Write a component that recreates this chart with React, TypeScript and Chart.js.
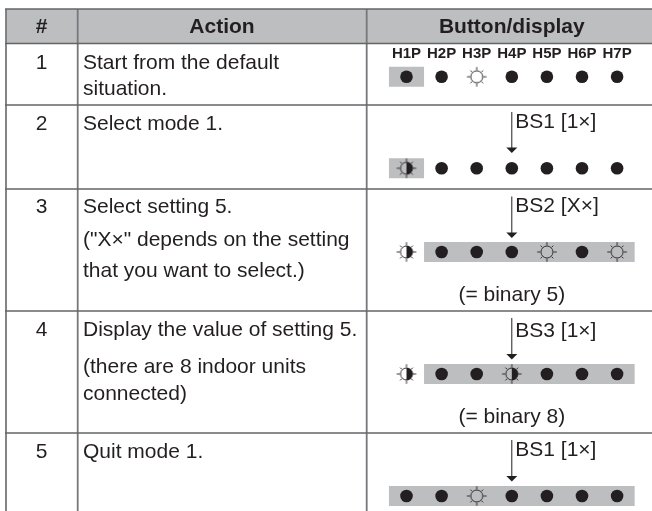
import React, { useEffect, useRef } from "react";
import { Chart, registerables } from "chart.js";

Chart.register(...registerables);

// ---- data ----
const ledLabels = ["H1P", "H2P", "H3P", "H4P", "H5P", "H6P", "H7P"];
const stepNumbers = ["1", "2", "3", "4", "5"];
const headers = ["#", "Action", "Button/display"];
const actionLines = [
  ["Start from the default", "situation."],
  ["Select mode 1."],
  ["Select setting 5.", "(\"X×\" depends on the setting", "that you want to select.)"],
  ["Display the value of setting 5.", "(there are 8 indoor units", "connected)"],
  ["Quit mode 1."],
];
const buttonLabels = ["", "BS1 [1×]", "BS2 [X×]", "BS3 [1×]", "BS1 [1×]"];
const resultLabels = ["", "", "(= binary 5)", "(= binary 8)", ""];
// o = off (solid dot), s = sun (on), h = half sun (blinking)
const ledStep1 = ["o", "o", "s", "o", "o", "o", "o"];
const ledStep2 = ["h", "o", "o", "o", "o", "o", "o"];
const ledStep3 = ["h", "o", "o", "o", "s", "o", "s"];
const ledStep4 = ["h", "o", "o", "h", "o", "o", "o"];
const ledStep5 = ["o", "o", "s", "o", "o", "o", "o"];
const ledSteps = [ledStep1, ledStep2, ledStep3, ledStep4, ledStep5];
// highlighted LED column ranges per step
const bandFrom = [1, 1, 2, 2, 1];
const bandTo = [1, 1, 7, 7, 7];

// ---- layout ----
const W = 652;
const H = 511;
const INK = "#231f20";
const COL0 = 406.5;
const STEP = 35.1;
const LED_Y = [76.8, 168.2, 252, 374, 496];
const ROW_LINES = [9, 43.5, 105, 189, 311, 433];
const COL_LINES = [6, 77.7, 366.7];
const NUM_BASE = [68.5, 130, 213, 336, 458];
const ACTION_BASE = [[69, 95], [130], [213, 246, 277], [336, 373, 400], [458]];
const BTN_TOP = [0, 112, 196.5, 318, 440];
const BTN_TIP = [0, 153, 238, 359.5, 481.5];
const BTN_BASE = [0, 128, 212, 336.5, 456];
const RES_BASE = [0, 0, 301, 423, 0];
const FONT = '"Liberation Sans", Arial, sans-serif';

function makeSun(half: boolean) {
  const c = document.createElement("canvas");
  c.width = 22;
  c.height = 22;
  const g = c.getContext("2d")!;
  g.translate(11, 11);
  g.strokeStyle = INK;
  g.lineWidth = 0.9;
  g.beginPath();
  g.arc(0, 0, 6, 0, Math.PI * 2);
  g.stroke();
  if (half) {
    g.fillStyle = INK;
    g.beginPath();
    g.arc(0, 0, 6.3, -Math.PI / 2, Math.PI / 2);
    g.fill();
  }
  for (let i = 0; i < 8; i++) {
    const a = (i * Math.PI) / 4;
    const outer = i % 2 === 0 ? 9.8 : 9;
    g.beginPath();
    g.moveTo(Math.cos(a) * 6.6, Math.sin(a) * 6.6);
    g.lineTo(Math.cos(a) * outer, Math.sin(a) * outer);
    g.stroke();
  }
  return c;
}

function pointsOf(state: string) {
  const out: { x: number; y: number }[] = [];
  ledSteps.forEach((row, r) =>
    row.forEach((s, i) => {
      if (s === state) out.push({ x: i + 1, y: LED_Y[r] });
    })
  );
  return out;
}

const tablePlugin = {
  id: "tablePlugin",
  beforeDatasetsDraw(chart: any) {
    const ctx = chart.ctx;
    ctx.save();
    ctx.fillStyle = "#bcbec0";
    ctx.fillRect(COL_LINES[0], ROW_LINES[0], W - COL_LINES[0], ROW_LINES[1] - ROW_LINES[0]);
    ctx.strokeStyle = "#77787b";
    ctx.lineWidth = 1.8;
    COL_LINES.forEach((x) => {
      ctx.beginPath();
      ctx.moveTo(x, ROW_LINES[0]);
      ctx.lineTo(x, H);
      ctx.stroke();
    });
    ctx.strokeStyle = "#636466";
    ctx.lineWidth = 1.5;
    ROW_LINES.forEach((y) => {
      ctx.beginPath();
      ctx.moveTo(COL_LINES[0] - 0.9, y);
      ctx.lineTo(W, y);
      ctx.stroke();
    });
    ctx.restore();
  },
  afterDatasetsDraw(chart: any) {
    const ctx = chart.ctx;
    const xs = chart.scales.x;
    ctx.save();
    ctx.fillStyle = INK;
    ctx.textBaseline = "alphabetic";

    ctx.font = `bold 21px ${FONT}`;
    ctx.textAlign = "center";
    ctx.fillText(headers[0], 41.5, 33);
    ctx.fillText(headers[1], 222, 33);
    ctx.fillText(headers[2], xs.getPixelForValue(4), 33);

    ctx.font = `bold 15px ${FONT}`;
    ledLabels.forEach((l, i) => ctx.fillText(l, xs.getPixelForValue(i + 1), 58));

    ctx.font = `21px ${FONT}`;
    stepNumbers.forEach((n, r) => ctx.fillText(n, 41.5, NUM_BASE[r]));

    ctx.textAlign = "left";
    actionLines.forEach((lines, r) =>
      lines.forEach((t, i) => ctx.fillText(t, 83, ACTION_BASE[r][i]))
    );

    buttonLabels.forEach((t, r) => {
      if (!t) return;
      const ax = xs.getPixelForValue(4);
      ctx.fillText(t, ax + 3.5, BTN_BASE[r]);
      ctx.strokeStyle = INK;
      ctx.lineWidth = 1;
      ctx.beginPath();
      ctx.moveTo(ax, BTN_TOP[r]);
      ctx.lineTo(ax, BTN_TIP[r] - 4);
      ctx.stroke();
      ctx.beginPath();
      ctx.moveTo(ax - 5.5, BTN_TIP[r] - 5.5);
      ctx.lineTo(ax + 5.5, BTN_TIP[r] - 5.5);
      ctx.lineTo(ax, BTN_TIP[r]);
      ctx.closePath();
      ctx.fill();
    });

    ctx.textAlign = "center";
    resultLabels.forEach((t, r) => {
      if (t) ctx.fillText(t, xs.getPixelForValue(4), RES_BASE[r]);
    });
    ctx.restore();
  },
};

export default function App() {
  const ref = useRef<HTMLCanvasElement | null>(null);
  useEffect(() => {
    document.body.style.margin = "0";
    const bandSets = bandFrom.map((from, r) => ({
      type: "line" as const,
      label: `band ${r + 1}`,
      data: [
        { x: from - 0.5, y: LED_Y[r] },
        { x: bandTo[r] + 0.5, y: LED_Y[r] },
      ],
      borderColor: "#bcbec0",
      borderWidth: 20,
      borderCapStyle: "butt" as const,
      pointRadius: 0,
      order: 10,
    }));
    const chart = new Chart(ref.current!, {
      type: "scatter",
      data: {
        datasets: [
          ...bandSets,
          {
            label: "off",
            data: pointsOf("o"),
            pointStyle: "circle",
            pointRadius: 6.3,
            backgroundColor: INK,
            borderWidth: 0,
            order: 1,
          },
          {
            label: "on",
            data: pointsOf("s"),
            pointStyle: makeSun(false),
            order: 1,
          },
          {
            label: "blink",
            data: pointsOf("h"),
            pointStyle: makeSun(true),
            order: 1,
          },
        ] as any,
      },
      options: {
        animation: false,
        responsive: false,
        layout: { padding: 0, autoPadding: false },
        plugins: { legend: { display: false }, tooltip: { enabled: false } },
        scales: {
          x: { type: "linear", display: false, min: 1 - COL0 / STEP, max: 1 + (W - COL0) / STEP },
          y: { type: "linear", display: false, min: 0, max: H, reverse: true },
        },
      },
      plugins: [tablePlugin],
    });
    return () => chart.destroy();
  }, []);
  return <canvas ref={ref} width={W} height={H} style={{ display: "block", filter: "blur(0.35px)" }} />;
}
